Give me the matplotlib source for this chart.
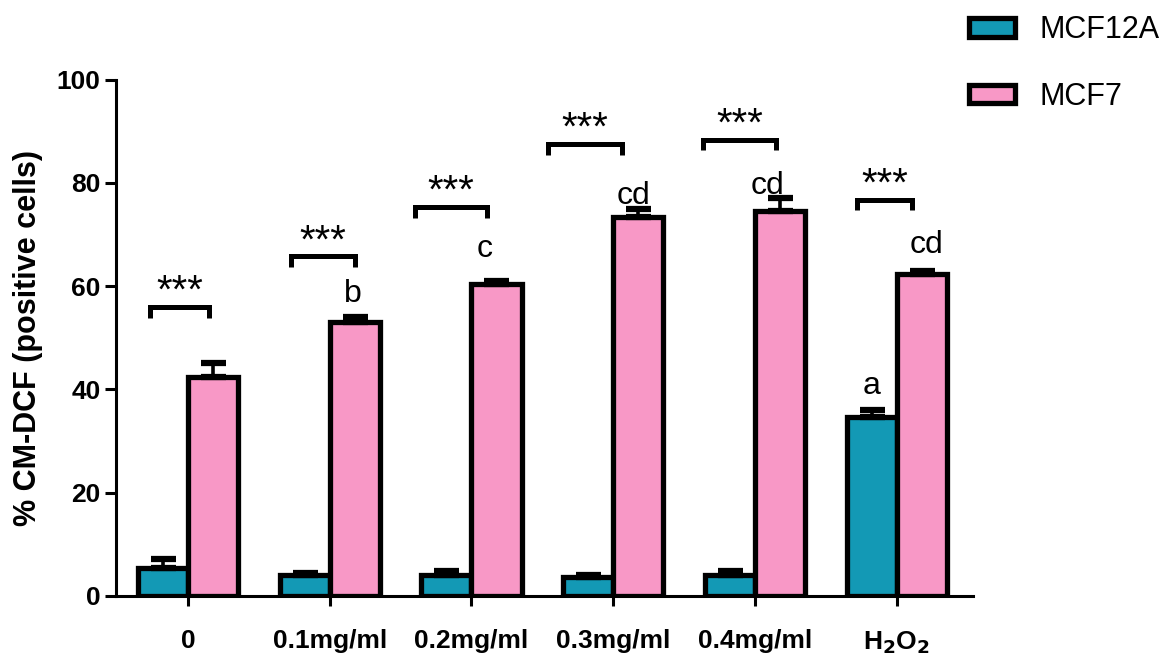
import numpy as np
import matplotlib
matplotlib.use("Agg")
import matplotlib.pyplot as plt

plt.rcParams["font.family"] = ["Liberation Sans", "DejaVu Sans"]

# treatments and cell lines
groups = ["0", "0.1mg/ml", "0.2mg/ml", "0.3mg/ml", "0.4mg/ml", r"H$_\mathbf{2}$O$_\mathbf{2}$"]
series = ["MCF12A", "MCF7"]

# % CM-DCF positive cells (mean, SEM)
mcf12a_mean = [5.5, 4.0, 4.1, 3.6, 4.1, 34.6]
mcf12a_err = [1.6, 0.4, 0.7, 0.5, 0.7, 1.4]
mcf7_mean = [42.5, 53.0, 60.5, 73.5, 74.5, 62.4]
mcf7_err = [2.6, 1.0, 0.6, 1.5, 2.6, 0.5]

# significance between cell lines within each treatment
sig_label = ["***"] * 6
sig_level = [56.0, 65.8, 75.4, 87.6, 88.4, 76.8]

# letters over individual bars: (group index, series index, label)
letter_group = [1, 2, 3, 4, 5, 5]
letter_series = [1, 1, 1, 1, 0, 1]
letter_text = ["b", "c", "cd", "cd", "a", "cd"]

colors = ["#1399b5", "#f898c6"]

fig = plt.figure(figsize=(11.7, 6.59), dpi=100)
ax = fig.add_axes([0.099, 0.0956, 0.733, 0.7834])

x = np.arange(len(groups))
w = 0.353
offsets = [-w / 2, w / 2]
bars = []
for means, errs, off, col, name in zip([mcf12a_mean, mcf7_mean], [mcf12a_err, mcf7_err],
                                        offsets, colors, series):
    b = ax.bar(x + off, means, width=w, color=col, edgecolor="black",
               linewidth=3.8, label=name, zorder=2)
    bars.append(b)
    ax.errorbar(x + off, means, yerr=[np.zeros(len(errs)), errs], fmt="none",
                ecolor="black", elinewidth=2.6, capsize=9, capthick=4.5, zorder=3)

# brackets with stars
span_l = [-0.27, -0.27, -0.40, -0.46, -0.37, -0.28]
span_r = [0.15, 0.18, 0.11, 0.06, 0.15, 0.11]
leg = 2.1
for i, (lab, lev) in enumerate(zip(sig_label, sig_level)):
    xl, xr = x[i] + span_l[i], x[i] + span_r[i]
    ax.plot([xl, xl, xr, xr], [lev - leg, lev, lev, lev - leg], color="black",
            lw=3.6, solid_joinstyle="miter", solid_capstyle="butt", zorder=3,
            clip_on=False)
    ax.text((xl + xr) / 2, lev + 0.8, lab, ha="center", va="baseline",
            fontsize=29, zorder=4)

# letters above bars
letter_dx = [0.16, 0.09, 0.14, 0.09, -0.18, 0.21]
letter_y = [57.0, 65.6, 75.9, 77.8, 39.1, 66.5]
for g, s, t, dx, ly in zip(letter_group, letter_series, letter_text, letter_dx, letter_y):
    ax.text(x[g] + dx, ly, t, ha="center", va="baseline", fontsize=23, zorder=4)

ax.set_xlim(-0.508, 5.54)
ax.set_ylim(0, 100)
ax.set_yticks([0, 20, 40, 60, 80, 100])
ax.set_xticks(x)
ax.set_xticklabels(groups)
for lab in ax.get_xticklabels():
    lab.set_fontweight("bold")
    lab.set_fontsize(19)
for lab in ax.get_yticklabels():
    lab.set_fontweight("bold")
    lab.set_fontsize(19)
ax.tick_params(axis="y", direction="out", length=8, width=2.2, pad=3)
ax.tick_params(axis="x", direction="out", length=7, width=2.2, pad=17)
ax.set_ylabel("% CM-DCF (positive cells)", fontsize=22, fontweight="bold", labelpad=10)

for side in ["top", "right"]:
    ax.spines[side].set_visible(False)
for side in ["left", "bottom"]:
    ax.spines[side].set_linewidth(2.2)

fig.legend(handles=bars, labels=series, loc="upper left",
           bbox_to_anchor=(0.815, 1.0), frameon=False, fontsize=22,
           handlelength=1.5, handleheight=0.55, handletextpad=0.8,
           labelspacing=1.2, borderaxespad=0.1)

fig.savefig("out.png", dpi=100)
